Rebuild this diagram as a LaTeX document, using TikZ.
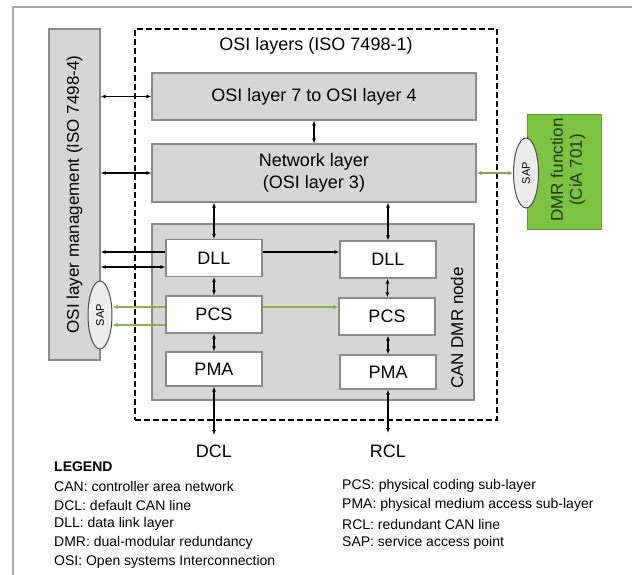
\documentclass[tikz,border=0pt]{standalone}
\usepackage{fontspec}
\setmainfont{Liberation Sans}
\usepackage{tikz}
\usetikzlibrary{arrows.meta,positioning,shapes.geometric}
\definecolor{boxgray}{HTML}{D6D6D6}
\definecolor{edgegray}{HTML}{8A8A8A}
\definecolor{framegray}{HTML}{A8A8A8}
\definecolor{dmrgreen}{HTML}{7DC243}
\definecolor{dmredge}{HTML}{5E9E2E}
\definecolor{dmrtext}{HTML}{1E3A12}
\definecolor{sapgreen}{HTML}{8FAF4A}
\definecolor{sapfill}{HTML}{EDEDED}
\tikzset{
  layerbox/.style={
    rectangle, draw=edgegray, line width=1.2pt,
    fill=boxgray, align=center, inner sep=0pt,
    font=\fontsize{18}{22}\selectfont
  },
  subbox/.style={
    rectangle, draw=edgegray, line width=1.2pt,
    fill=white, minimum width=96pt, minimum height=37pt,
    inner sep=0pt, font=\fontsize{18}{22}\selectfont
  },
  dmrbox/.style={rectangle, draw=dmredge, line width=1pt, fill=dmrgreen, inner sep=0pt},
  sapnode/.style={ellipse, draw=black!70, line width=1pt, fill=sapfill,
    minimum width=24pt, minimum height=68pt, inner sep=0pt},
  sidetext/.style={rotate=90, align=center, font=\fontsize{17}{19}\selectfont},
  saplabel/.style={rotate=90, font=\fontsize{11}{13}\selectfont},
  linkarrow/.style={{Latex[length=5pt,width=4pt]}-{Latex[length=5pt,width=4pt]}, line width=1.1pt},
  toarrow/.style={-{Latex[length=5pt,width=4pt]}, line width=1.1pt},
  saparrow/.style={-{Latex[length=5pt,width=4.5pt]}, line width=2pt, color=sapgreen},
  sapboth/.style={{Latex[length=5pt,width=4.5pt]}-{Latex[length=5pt,width=4.5pt]}, line width=2pt, color=sapgreen!80!gray},
  linetext/.style={font=\fontsize{18}{22}\selectfont},
  legendtext/.style={anchor=west, inner sep=0pt, font=\fontsize{14}{17}\selectfont},
}
\begin{document}
\begin{tikzpicture}[x=1pt, y=-1pt]
  \useasboundingbox (0,0) rectangle (632,575);
  \draw[framegray, line width=1.5pt] (13,576) |- (633,7);

  \node[rectangle, draw, line width=2pt, dash pattern=on 6pt off 3pt,
    minimum width=362pt, minimum height=391pt] (osi) at (316,224.5) {};
  \node[linetext, below=6pt of osi.north] (osititle) {OSI layers (ISO 7498-1)};

  \node[layerbox, minimum width=51pt, minimum height=331pt] (mgmt) at (74.5,194.5) {};
  \node[sidetext] (mgmttext) at (mgmt) {OSI layer management (ISO 7498-4)};

  \node[layerbox, minimum width=324pt, minimum height=47pt] (l7) at (314,96.5) {OSI layer 7 to OSI layer 4};
  \node[layerbox, minimum width=324pt, minimum height=58pt] (net) at (314,173) {Network layer\\(OSI layer 3)};
  \node[layerbox, minimum width=322pt, minimum height=176pt] (can) at (313,312) {};
  \node[sidetext] (cantext) at (457,328) {CAN DMR node};

  \node[subbox] (dll1) at (214,258) {DLL};
  \node[subbox] (pcs1) at (214,314.5) {PCS};
  \node[subbox, minimum height=34pt] (pma1) at (214,369) {PMA};
  \node[subbox] (dll2) at (388,259.5) {DLL};
  \node[subbox] (pcs2) at (387,316.5) {PCS};
  \node[subbox, minimum height=34pt] (pma2) at (388,372) {PMA};

  \node[dmrbox, minimum width=74pt, minimum height=114pt] (dmr) at (564,172) {};
  \node[sidetext, text=dmrtext] (dmrtext) at (568,170) {DMR function\\(CiA 701)};

  \node[sapnode] (sap1) at (100,315) {};
  \node[saplabel] at (sap1) {SAP};
  \node[sapnode, minimum width=25pt, minimum height=70pt] (sap2) at (526,173) {};
  \node[saplabel] at (sap2) {SAP};

  \coordinate (dclend) at (214,435);
  \coordinate (rclend) at (388,433);
  \node[linetext] (dcl) at (214,451) {DCL};
  \node[linetext] (rcl) at (388,451) {RCL};

  \draw[linkarrow] (mgmt.east |- l7.west) -- (l7.west);
  \draw[linkarrow] (mgmt.east |- net.west) -- (net.west);
  \draw[linkarrow] (l7.south) -- (net.north);
  \draw[linkarrow] (net.south -| dll1.north) -- (dll1.north);
  \draw[linkarrow] (net.south -| dll2.north) -- (dll2.north);
  \draw[toarrow] ([yshift=6pt]dll1.west) -- ([yshift=6pt]dll1.west -| mgmt.east);
  \draw[linkarrow] ([yshift=-9pt]dll1.west -| mgmt.east) -- ([yshift=-9pt]dll1.west);
  \draw[toarrow] ([yshift=6pt]dll1.east) -- ([yshift=6pt]dll1.east -| dll2.west);
  \draw[linkarrow] (dll1) -- (pcs1);
  \draw[linkarrow] (dll2) -- (pcs2);
  \draw[linkarrow] (pcs1) -- (pma1);
  \draw[linkarrow] (pcs2.south -| pma2.north) -- (pma2.north);
  \draw[linkarrow] (pma1.south) -- (dclend);
  \draw[linkarrow] (pma2.south) -- (rclend);

  \draw[saparrow] ([yshift=7.5pt]pcs1.west) -- ([yshift=7.5pt]pcs1.west -| sap1.east);
  \draw[saparrow] ([yshift=-10.5pt]pcs1.west) -- ([yshift=-10.5pt]pcs1.west -| sap1.east);
  \draw[saparrow] ([yshift=7.5pt]pcs1.east) -- ([yshift=7.5pt]pcs1.east -| pcs2.west);
  \draw[sapboth] (net.east) -- (sap2.west);

  \node[legendtext, font=\fontsize{14}{17}\bfseries] (legend) at (54,467) {LEGEND};
  \node[legendtext] (lcan) at (54,486) {CAN: controller area network};
  \node[legendtext] (ldcl) at (54,505) {DCL: default CAN line};
  \node[legendtext] (ldll) at (54,524) {DLL: data link layer};
  \node[legendtext] (ldmr) at (54,543) {DMR: dual-modular redundancy};
  \node[legendtext] (losi) at (54,562) {OSI: Open systems Interconnection};
  \node[legendtext] (lpcs) at (342,486) {PCS: physical coding sub-layer};
  \node[legendtext] (lpma) at (342,505) {PMA: physical medium access sub-layer};
  \node[legendtext] (lrcl) at (342,524) {RCL: redundant CAN line};
  \node[legendtext] (lsap) at (342,543) {SAP: service access point};
\end{tikzpicture}
\end{document}
